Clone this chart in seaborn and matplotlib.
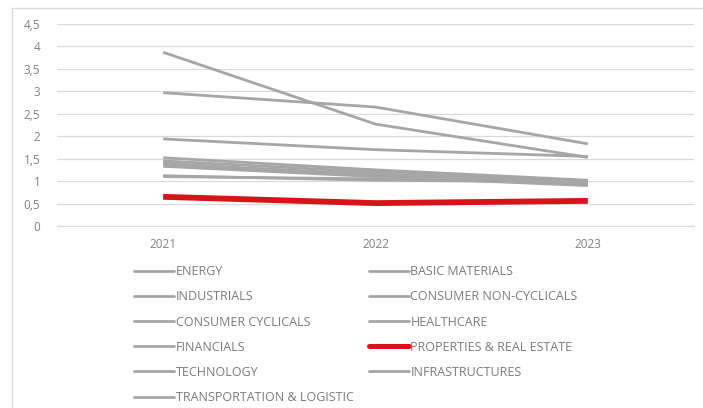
import matplotlib
matplotlib.use("Agg")
import matplotlib.pyplot as plt
import matplotlib.patches as mpatches
import seaborn as sns
import pandas as pd

years = ["2021", "2022", "2023"]

energy = [3.87, 2.27, 1.53]
basic_materials = [2.97, 2.65, 1.83]
industrials = [1.94, 1.70, 1.55]
consumer_non_cyclicals = [1.52, 1.25, 1.02]
consumer_cyclicals = [1.45, 1.20, 0.98]
healthcare = [1.38, 1.15, 0.95]
financials = [1.33, 1.10, 0.90]
properties_real_estate = [0.65, 0.51, 0.56]
technology = [1.40, 1.12, 0.93]
infrastructures = [1.12, 1.02, 0.98]
transportation_logistic = [1.10, 1.05, 1.00]

sectors = [
    "ENERGY", "BASIC MATERIALS", "INDUSTRIALS", "CONSUMER NON-CYCLICALS",
    "CONSUMER CYCLICALS", "HEALTHCARE", "FINANCIALS", "PROPERTIES & REAL ESTATE",
    "TECHNOLOGY", "INFRASTRUCTURES", "TRANSPORTATION & LOGISTIC",
]
series = [
    energy, basic_materials, industrials, consumer_non_cyclicals,
    consumer_cyclicals, healthcare, financials, properties_real_estate,
    technology, infrastructures, transportation_logistic,
]
y_ticks = [0, 0.5, 1, 1.5, 2, 2.5, 3, 3.5, 4, 4.5]
y_tick_labels = ["0", "0,5", "1", "1,5", "2", "2,5", "3", "3,5", "4", "4,5"]

highlight = "PROPERTIES & REAL ESTATE"
GRAY = "#a6a6a6"
RED = "#d7141a"

rows = []
for name, vals in zip(sectors, series):
    for i, (yr, v) in enumerate(zip(years, vals)):
        rows.append({"sector": name, "pos": i, "year": yr, "value": v})
df = pd.DataFrame(rows)

sns.set_theme(style="white")
plt.rcParams["font.family"] = ["Open Sans", "DejaVu Sans"]

fig = plt.figure(figsize=(7.03, 4.08), dpi=100)
ax = fig.add_axes([57 / 703, 1 - 226 / 408, (694 - 57) / 703, (226 - 24) / 408])

palette = {s: (RED if s == highlight else GRAY) for s in sectors}
# draw gray series first, highlight on top
order = [s for s in sectors if s != highlight] + [highlight]
for s in order:
    sub = df[df["sector"] == s]
    sns.lineplot(data=sub, x="pos", y="value", color=palette[s],
                 linewidth=4.2 if s == highlight else 2.0, ax=ax,
                 legend=False, solid_capstyle="butt")

ax.set_xlim(-0.5, 2.5)
ax.set_ylim(0, 4.5)
ax.set_xticks(range(len(years)))
ax.set_xticklabels(years)
ax.set_yticks(y_ticks)
ax.set_yticklabels(y_tick_labels)
ax.set_xlabel("")
ax.set_ylabel("")
ax.grid(axis="y", color="#d9d9d9", linewidth=0.9)
ax.set_axisbelow(True)
for side in ["top", "right", "left"]:
    ax.spines[side].set_visible(False)
ax.spines["bottom"].set_color("#d9d9d9")
ax.spines["bottom"].set_linewidth(0.9)
ax.tick_params(axis="both", length=0, labelsize=8.5, labelcolor="#808080")
ax.tick_params(axis="y", pad=12)
ax.tick_params(axis="x", pad=9)

# legend reads row by row across two columns
legend_order = sectors[0::2] + sectors[1::2]
leg_handles = [
    plt.Line2D([0], [0], color=palette[s], linewidth=3.6 if s == highlight else 2.0)
    for s in legend_order
]
leg = fig.legend(leg_handles, legend_order, ncol=2, loc="upper left",
                 bbox_to_anchor=(123 / 703, 1 - 254 / 408), frameon=False,
                 fontsize=9, handlelength=3.2, handletextpad=0.1,
                 columnspacing=1.25, labelspacing=0.97)
for t in leg.get_texts():
    t.set_color("#7a7a7a")

frame = mpatches.Rectangle((12 / 703, -0.01), 1.0, 1 - 8 / 408 + 0.01,
                           transform=fig.transFigure, fill=False,
                           edgecolor="#d9d9d9", linewidth=1.0)
fig.patches.append(frame)

fig.savefig("out.png", dpi=100)
